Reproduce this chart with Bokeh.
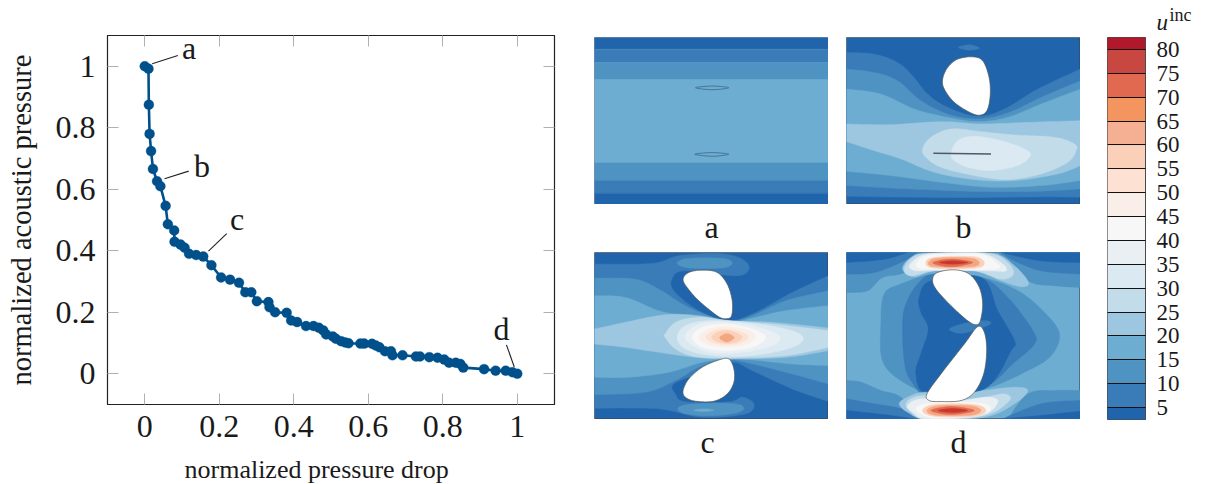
import numpy as np
from bokeh.plotting import figure
from bokeh.embed import file_html
from bokeh.resources import INLINE
from bokeh.layouts import row, column
from bokeh.models import LinearAxis, Range1d, FixedTicker
from bokeh.core.properties import value

SERIF = "Liberation Serif"

# ---- Pareto front ----
pressure_drop = [0, .010, .011, .013, .017, .022, .033, .042, .056, .062, .079, .080, .096, .107, .119, .138, .157, .179,
                 .205, .229, .253, .270, .286, .301, .332, .335, .350, .381, .393, .409, .433, .453, .467, .479, .487,
                 .505, .513, .527, .538, .547, .579, .589, .610, .620, .630, .645, .661, .665, .692, .728, .739, .764,
                 .786, .804, .817, .835, .847, .855, .911, .942, .969, .987, 1.0]
acoustic_pressure = [1.0, .992, .875, .78, .724, .666, .626, .61, .546, .486, .466, .429, .42, .41, .39, .386, .381, .353,
                     .313, .306, .296, .265, .265, .236, .233, .216, .200, .198, .173, .168, .155, .155, .150, .141, .128,
                     .121, .114, .106, .102, .099, .098, .098, .0975, .092, .086, .073, .073, .060, .060, .056, .056, .054,
                     .052, .046, .036, .036, .032, .020, .015, .010, .010, .005, 0.0]
x_ticks = [0, .2, .4, .6, .8, 1]
y_ticks = [0, .2, .4, .6, .8, 1]
tick_names = {0: "0", .2: "0.2", .4: "0.4", .6: "0.6", .8: "0.8", 1: "1"}
x_title = "normalized pressure drop"
y_title = "normalized acoustic pressure"
note_names = ["a", "b", "c", "d"]
note_x0 = [.020, .053, .171, .992]
note_y0 = [1.008, .634, .399, .022]
note_x1 = [.089, .118, .220, .971]
note_y1 = [1.035, .659, .456, .094]
note_tx = [.119, .154, .248, .958]
note_ty = [1.059, .675, .503, .146]

# ---- colour levels ----
level_low = [2.5, 5, 10, 15, 20, 25, 30, 35, 40, 45, 50, 55, 60, 65, 70, 75, 80]
level_high = [5, 10, 15, 20, 25, 30, 35, 40, 45, 50, 55, 60, 65, 70, 75, 80, 82.5]
level_colors = ["#2065ab", "#3a7cb8", "#4f93c3", "#6dadd1", "#9dc7e0", "#c3dcea", "#dae9f2", "#e9eff2", "#f7f7f7",
                "#faeee8", "#fde2d3", "#fbd0b9", "#f5b094", "#f4955f", "#e0694f", "#c94741", "#b2182b"]
C5, C10, C15, C20, C25, C30, C35, C40, C45, C50, C55, C60, C65, C70, C75, C80, C85 = level_colors
bar_ticks = [5, 10, 15, 20, 25, 30, 35, 40, 45, 50, 55, 60, 65, 70, 75, 80]

# ---- panel a ----
a_edges = [35, 70, 110, 162, 412, 465, 503, 537]
a_colors = [C5, C10, C15, C20, C15, C10, C5]
a_slit_top = [(330, 186), (380, 181), (430, 186), (380, 192)]
a_slit_bottom = [(328, 386), (380, 381), (430, 386), (380, 392)]

# ---- panel b ----
b1_top = [(17, 80), (100, 85), (170, 110), (215, 150), (260, 205), (320, 245), (410, 272), (490, 250), (590, 190), (718, 130)]
b1_bot = [(718, 515), (600, 514), (400, 516), (200, 515), (17, 512)]
b2_top = [(17, 130), (100, 140), (170, 165), (240, 225), (320, 265), (410, 280), (500, 262), (600, 215), (718, 165)]
b2_bot = [(718, 490), (600, 497), (420, 498), (200, 490), (17, 480)]
b3_top = [(17, 190), (120, 205), (220, 250), (320, 275), (410, 288), (500, 275), (600, 235), (718, 190)]
b3_bot = [(718, 465), (600, 480), (450, 485), (300, 470), (150, 450), (17, 437)]
b4_top = [(17, 295), (150, 297), (300, 288), (420, 295), (560, 290), (718, 285)]
b4_bot = [(718, 420), (650, 445), (520, 465), (400, 462), (280, 440), (180, 400), (100, 375), (17, 348)]
b5 = [(245, 370), (270, 335), (330, 310), (420, 318), (520, 328), (640, 335), (700, 355), (705, 375), (680, 410), (600, 445),
      (500, 462), (400, 450), (300, 425), (255, 395)]
b6 = [(330, 385), (350, 345), (400, 332), (480, 345), (550, 370), (568, 390), (530, 420), (450, 435), (380, 425), (340, 405)]
b_top_lobe = [(352, 65), (385, 57), (415, 67), (385, 73)]
b_foil = [(305, 160), (320, 125), (350, 100), (395, 93), (425, 105), (443, 150), (448, 200), (440, 250), (420, 268),
          (390, 262), (340, 230), (310, 190)]
b_slit_x = [277, 450]
b_slit_y = [383, 385]

# ---- panel c ----
c1_top = [(28, 70), (200, 68), (280, 45), (400, 38), (470, 55), (490, 85), (450, 105), (300, 90), (262, 110), (265, 150),
          (340, 210), (430, 240), (510, 215), (620, 155), (728, 105)]
c1_bot = [(728, 483), (620, 445), (500, 390), (440, 365), (350, 395), (265, 430), (270, 460), (300, 484), (430, 484),
          (470, 470), (505, 490), (480, 520), (350, 530), (220, 505), (28, 503)]
c2_top = [(28, 112), (150, 115), (220, 145), (300, 195), (370, 225), (430, 243), (500, 225), (600, 180), (728, 150)]
c2_bot = [(728, 430), (620, 400), (500, 370), (430, 358), (350, 375), (270, 420), (180, 455), (28, 462)]
c3_top = [(28, 165), (120, 170), (220, 210), (300, 225), (430, 245), (500, 232), (600, 210), (728, 195)]
c3_bot = [(728, 375), (620, 370), (500, 358), (430, 355), (350, 365), (250, 395), (130, 410), (28, 410)]
c4_top = [(28, 265), (120, 245), (240, 222), (340, 225), (430, 240), (560, 245), (728, 262)]
c4_bot = [(728, 330), (600, 350), (430, 355), (330, 350), (220, 335), (120, 320), (28, 310)]
c5_top = [(235, 285), (270, 245), (340, 230), (430, 240), (560, 250), (728, 270)]
c5_bot = [(728, 320), (600, 345), (430, 352), (330, 348), (270, 325), (235, 285)]
c6 = [(275, 290), (300, 255), (370, 240), (480, 245), (600, 265), (652, 290), (620, 320), (500, 345), (380, 345), (300, 325)]
c7 = [(300, 295), (330, 255), (400, 243), (500, 255), (580, 285), (560, 315), (470, 335), (370, 335)]
c8 = [(320, 290), (350, 260), (420, 250), (500, 265), (540, 290), (500, 320), (420, 330), (350, 320)]
c9 = [(340, 290), (370, 265), (425, 258), (490, 270), (510, 290), (480, 312), (425, 318), (370, 312)]
c10 = [(360, 290), (385, 270), (425, 265), (470, 275), (488, 290), (465, 307), (425, 312), (385, 307)]
c11 = [(378, 290), (395, 275), (425, 270), (455, 278), (470, 290), (455, 303), (425, 308), (395, 303)]
c12 = [(402, 291), (424, 279), (446, 291), (424, 304)]
c_lobe_top = [(275, 67), (300, 54), (360, 51), (420, 54), (440, 67), (420, 80), (360, 83), (300, 80)]
c_lobe_bot = [(277, 505), (300, 493), (370, 488), (450, 490), (475, 503), (450, 518), (370, 526), (300, 520)]
c_lobe_bot_in = [(325, 509), (355, 505), (385, 509), (355, 513)]
c_foil_top = [(293, 115), (310, 95), (350, 88), (395, 95), (425, 130), (440, 180), (438, 225), (420, 234), (395, 225),
              (340, 180), (305, 140)]
c_foil_bot = [(293, 450), (310, 415), (350, 380), (400, 358), (430, 355), (445, 385), (445, 425), (425, 460), (385, 482),
              (330, 482), (300, 470)]

# ---- panel d ----
d_tl15 = [(17, 155), (80, 150), (125, 110), (190, 95), (280, 35)]
d_tl10 = [(17, 100), (100, 95), (190, 60), (230, 35)]
d_tl5 = [(17, 65), (130, 55), (200, 35)]
d_tr15 = [(718, 140), (640, 135), (560, 120), (470, 35)]
d_tr10 = [(718, 100), (600, 90), (520, 60), (480, 35)]
d_tr5 = [(718, 65), (600, 60), (480, 35)]
d_bl15 = [(17, 420), (60, 425), (120, 450), (180, 470), (230, 537)]
d_bl10 = [(17, 475), (100, 490), (180, 505), (240, 537)]
d_bl5 = [(17, 510), (150, 525), (230, 537)]
d_br15 = [(718, 450), (640, 450), (560, 460), (500, 537)]
d_br10 = [(718, 480), (600, 490), (480, 537)]
d_br5 = [(718, 512), (600, 525), (460, 537)]
d15 = [(130, 160), (180, 130), (280, 100), (420, 110), (530, 150), (610, 215), (655, 280), (630, 345), (560, 390), (430, 445),
       (280, 460), (180, 420), (125, 360), (120, 250)]
d10 = [(195, 190), (230, 130), (280, 100), (420, 110), (500, 170), (575, 270), (580, 310), (520, 365), (430, 440), (270, 470),
       (210, 420), (190, 360), (185, 250)]
d5 = [(235, 170), (270, 120), (420, 110), (470, 210), (520, 300), (510, 330), (430, 445), (260, 460), (225, 400), (240, 340),
      (262, 265), (240, 215)]
d_mid_lobe = [(325, 265), (370, 248), (430, 240), (450, 248), (420, 262), (360, 278)]
dt25 = [(185, 85), (210, 50), (260, 37), (450, 37), (520, 75), (562, 125), (540, 138), (480, 120), (400, 90), (280, 90), (220, 108)]
dt30 = [(190, 85), (215, 50), (270, 37), (440, 37), (500, 65), (517, 100), (480, 115), (400, 90), (280, 90), (210, 105)]
dt40 = [(205, 75), (240, 45), (300, 37), (420, 37), (480, 65), (495, 90), (440, 90), (280, 88), (225, 90)]
dt45 = [(225, 70), (255, 45), (330, 40), (420, 40), (465, 65), (460, 85), (280, 85), (240, 85)]
dt60 = [(255, 67), (280, 50), (400, 48), (430, 68), (400, 82), (280, 82)]
dt65 = [(262, 67), (290, 52), (390, 52), (415, 67), (390, 78), (285, 78)]
dt75 = [(275, 66), (330, 55), (395, 65), (330, 78)]
dt80 = [(295, 65), (335, 60), (380, 65), (335, 70)]
db25 = [(175, 490), (200, 470), (250, 455), (340, 465), (430, 450), (520, 440), (560, 450), (520, 490), (430, 530), (260, 537), (200, 515)]
db30 = [(195, 490), (215, 472), (260, 465), (340, 480), (430, 470), (490, 460), (505, 480), (430, 525), (260, 537), (210, 515)]
db40 = [(200, 495), (240, 475), (340, 482), (440, 470), (470, 485), (420, 525), (260, 535), (215, 515)]
db45 = [(225, 505), (260, 488), (340, 484), (420, 488), (450, 503), (410, 523), (270, 530)]
db60 = [(245, 510), (280, 492), (400, 492), (435, 510), (400, 527), (280, 527)]
db65 = [(258, 510), (290, 496), (390, 496), (420, 510), (390, 524), (285, 524)]
db75 = [(270, 510), (330, 498), (400, 510), (330, 522)]
db80 = [(292, 510), (335, 504), (380, 510), (335, 516)]
d_foil_top = [(275, 115), (290, 95), (340, 87), (385, 100), (415, 140), (425, 190), (418, 240), (405, 252), (380, 240),
              (330, 195), (285, 145)]
d_foil_bot = [(258, 460), (300, 400), (370, 310), (410, 258), (430, 275), (437, 330), (428, 400), (400, 455), (360, 480),
              (300, 483), (265, 480)]

# ---- captions ----
caption_top = ["a", "b"]
caption_top_x = [117, 369]
caption_bottom = ["c", "d"]
caption_bottom_x = [113, 364]


def spline(pts, closed=False, n=10):
    """Smooth outline through the listed contour points."""
    P = np.array(pts, dtype=float)
    if closed:
        P = np.vstack([P[-1], P, P[0], P[1]])
    else:
        P = np.vstack([P[0], P, P[-1]])
    out = []
    for i in range(1, len(P) - 2):
        p0, p1, p2, p3 = P[i - 1], P[i], P[i + 1], P[i + 2]
        for t in np.linspace(0, 1, n, endpoint=False):
            out.append(.5 * (2 * p1 + (p2 - p0) * t + (2 * p0 - 5 * p1 + 4 * p2 - p3) * t ** 2 + (3 * p1 - p0 - 3 * p2 + p3) * t ** 3))
    if not closed:
        out.append(P[-2])
    return np.array(out)


def panel(xr, yr, width, height, **kw):
    p = figure(width=width, height=height, x_range=Range1d(*xr), y_range=Range1d(*yr), output_backend="svg",
               toolbar_location=None, x_axis_type=None, y_axis_type=None, min_border=0, **kw)
    p.grid.visible = False
    p.outline_line_color = "#3a4a5c"
    p.outline_line_width = 1
    p.outline_line_alpha = .6
    return p


def blob(p, pts, color):
    s = spline(pts, closed=True)
    p.patch(s[:, 0], s[:, 1], fill_color=color, line_color=color, line_width=.5)


def band(p, top, bot, color):
    s = np.vstack([spline(top), spline(bot)])
    p.patch(s[:, 0], s[:, 1], fill_color=color, line_color=color, line_width=.5)


def foil(p, pts):
    s = spline(pts, closed=True)
    p.patch(s[:, 0], s[:, 1], fill_color="white", line_color="#555555", line_width=.7)


def strip(names, xs):
    p = figure(width=486, height=48, x_range=Range1d(0, 486), y_range=Range1d(48, 0), output_backend="svg",
               toolbar_location=None, x_axis_type=None, y_axis_type=None, min_border=0, margin=(0, 0, 0, 8))
    p.grid.visible = False
    p.outline_line_color = None
    p.text(xs, [22] * len(xs), text=names, text_font=value(SERIF), text_font_size=value("32px"), text_align="center",
           text_baseline="middle", text_color="#1a1a1a")
    return p


# ---- main chart ----
main = figure(width=586, height=456, x_range=Range1d(-.1, 1.1), y_range=Range1d(-.1, 1.1), output_backend="svg",
              toolbar_location=None, min_border_left=107, min_border_right=32, min_border_top=35, min_border_bottom=52,
              y_axis_label=y_title)
main.grid.visible = False
main.outline_line_color = "#222222"
main.outline_line_width = 1.2
for ax in (main.xaxis[0], main.yaxis[0]):
    ax.major_label_text_font = SERIF
    ax.major_label_text_font_size = "32px"
    ax.major_label_text_color = "#1a1a1a"
    ax.major_tick_in = 11
    ax.major_tick_out = 0
    ax.minor_tick_line_color = None
    ax.major_tick_line_color = "#b0b0b0"
    ax.axis_line_color = "#222222"
    ax.major_label_overrides = tick_names
main.xaxis[0].ticker = FixedTicker(ticks=x_ticks)
main.yaxis[0].ticker = FixedTicker(ticks=y_ticks)
main.yaxis[0].axis_label_text_font = SERIF
main.yaxis[0].axis_label_text_font_style = "normal"
main.yaxis[0].axis_label_text_color = "#1a1a1a"
main.yaxis[0].axis_label_text_font_size = "28.5px"
main.xaxis[0].major_label_standoff = 11
main.yaxis[0].major_label_standoff = 12
main.yaxis[0].axis_label_standoff = 16
for side, t in (("above", x_ticks), ("right", y_ticks)):
    ax = LinearAxis(ticker=FixedTicker(ticks=t), major_label_overrides={v: "" for v in t}, major_tick_in=11, major_tick_out=0,
                    minor_tick_line_color=None, major_tick_line_color="#b0b0b0", axis_line_color="#222222")
    main.add_layout(ax, side)
main.line(pressure_drop, acoustic_pressure, line_color="#00508c", line_width=2.6)
main.scatter(pressure_drop, acoustic_pressure, size=10, fill_color="#00508c", line_color="#00508c", line_width=.3)
main.segment(note_x0, note_y0, note_x1, note_y1, line_color="#222222", line_width=1.1)
main.text(note_tx, note_ty, text=note_names, text_font=value(SERIF), text_font_size=value("32px"),
          text_align="center", text_baseline="middle", text_color="#1a1a1a")

# x title strip
xlab = figure(width=586, height=28, x_range=Range1d(0, 586), y_range=Range1d(28, 0), output_backend="svg",
              toolbar_location=None, x_axis_type=None, y_axis_type=None, min_border=0)
xlab.grid.visible = False
xlab.outline_line_color = None
xlab.text([184], [13], text=[x_title], text_font=value(SERIF), text_font_size=value("26px"), text_align="left",
          text_baseline="middle", text_color="#1a1a1a")

# ---- panel a ----
pa = panel((28, 728), (537, 35), 234, 167, margin=(37, 0, 0, 8))
pa.quad(left=28, right=728, top=a_edges[:-1], bottom=a_edges[1:], fill_color=a_colors, line_color=a_colors, line_width=.5)
for sl in (a_slit_top, a_slit_bottom):
    s = spline(sl, closed=True)
    pa.patch(s[:, 0], s[:, 1], fill_color=C20, line_color="#3f6f8c", line_width=.9)

# ---- panel b ----
pb = panel((17, 718), (537, 35), 234, 167, margin=(37, 0, 0, 18))
pb.background_fill_color = C5
band(pb, b1_top, b1_bot, C10)
band(pb, b2_top, b2_bot, C15)
band(pb, b3_top, b3_bot, C20)
band(pb, b4_top, b4_bot, C25)
blob(pb, b5, C30)
blob(pb, b6, C35)
blob(pb, b_top_lobe, C10)
foil(pb, b_foil)
pb.line(b_slit_x, b_slit_y, line_color="#4d5a66", line_width=1.4)

# ---- panel c ----
pc = panel((28, 728), (537, 35), 234, 167, margin=(0, 0, 0, 8))
pc.background_fill_color = C5
band(pc, c1_top, c1_bot, C10)
band(pc, c2_top, c2_bot, C15)
band(pc, c3_top, c3_bot, C20)
band(pc, c4_top, c4_bot, C25)
band(pc, c5_top, c5_bot, C30)
for pts, col in ((c6, C35), (c7, C40), (c8, C45), (c9, C50), (c10, C55), (c11, C60), (c12, "#f4a582")):
    blob(pc, pts, col)
blob(pc, c_lobe_top, C15)
blob(pc, c_lobe_bot, C15)
blob(pc, c_lobe_bot_in, C20)
foil(pc, c_foil_top)
foil(pc, c_foil_bot)

# ---- panel d ----
pd_ = panel((17, 718), (537, 35), 234, 167, margin=(0, 0, 0, 18))
pd_.background_fill_color = C20
band(pd_, d_tl15, [(17, 35)], C15)
band(pd_, d_tl10, [(17, 35)], C10)
band(pd_, d_tl5, [(17, 35)], C5)
band(pd_, d_tr15, [(718, 35)], C15)
band(pd_, d_tr10, [(718, 35)], C10)
band(pd_, d_tr5, [(718, 35)], C5)
band(pd_, d_bl15, [(17, 537)], C15)
band(pd_, d_bl10, [(17, 537)], C10)
band(pd_, d_bl5, [(17, 537)], C5)
band(pd_, d_br15, [(718, 537)], C15)
band(pd_, d_br10, [(718, 537)], C10)
band(pd_, d_br5, [(718, 537)], C5)
blob(pd_, d15, C15)
blob(pd_, d10, C10)
blob(pd_, d5, C5)
blob(pd_, d_mid_lobe, C10)
for pts, col in ((dt25, C25), (dt30, C30), (dt40, C40), (dt45, C45), (dt60, C60), (dt65, "#f4a582"), (dt75, C75), (dt80, "#c9372c"),
                 (db25, C25), (db30, C30), (db40, C40), (db45, C45), (db60, C60), (db65, "#f4a582"), (db75, C75), (db80, "#c9372c")):
    blob(pd_, pts, col)
foil(pd_, d_foil_top)
foil(pd_, d_foil_bot)

# ---- colour bar ----
head = figure(width=99, height=37, x_range=Range1d(0, 99), y_range=Range1d(37, 0), output_backend="svg",
              toolbar_location=None, x_axis_type=None, y_axis_type=None, min_border=0, margin=(0, 0, 0, 27))
head.grid.visible = False
head.outline_line_color = None
head.text([49], [22], text=["u"], text_font=value(SERIF), text_font_size=value("23px"), text_font_style="italic",
          text_align="left", text_baseline="middle", text_color="#1a1a1a")
head.text([62], [14], text=["inc"], text_font=value(SERIF), text_font_size=value("18px"),
          text_align="left", text_baseline="middle", text_color="#1a1a1a")

cb = figure(width=99, height=402, x_range=Range1d(0, 1), y_range=Range1d(2.5, 82.5), output_backend="svg",
            toolbar_location=None, x_axis_type=None, y_axis_location="right", min_border_left=0, min_border_right=61,
            min_border_top=0, min_border_bottom=20, margin=(0, 0, 0, 27))
cb.grid.visible = False
cb.outline_line_color = "#4a4a4a"
cb.outline_line_width = 1
cb.quad(left=0, right=1, bottom=level_low, top=level_high, fill_color=level_colors, line_color=level_colors, line_width=.4)
yax = cb.yaxis[0]
yax.ticker = FixedTicker(ticks=bar_ticks)
yax.major_tick_in = 38
yax.major_tick_out = 0
yax.major_tick_line_color = "#111111"
yax.major_tick_line_width = 1.1
yax.minor_tick_line_color = None
yax.axis_line_color = "#4a4a4a"
yax.major_label_text_font = SERIF
yax.major_label_text_font_size = "23px"
yax.major_label_text_color = "#1a1a1a"
yax.major_label_standoff = 11

panels = column(row(pa, pb), strip(caption_top, caption_top_x), row(pc, pd_), strip(caption_bottom, caption_bottom_x))
layout = row(column(row(main), row(xlab)), panels, column(row(head), row(cb)))
open("out.html", "w").write(file_html(layout, INLINE))
